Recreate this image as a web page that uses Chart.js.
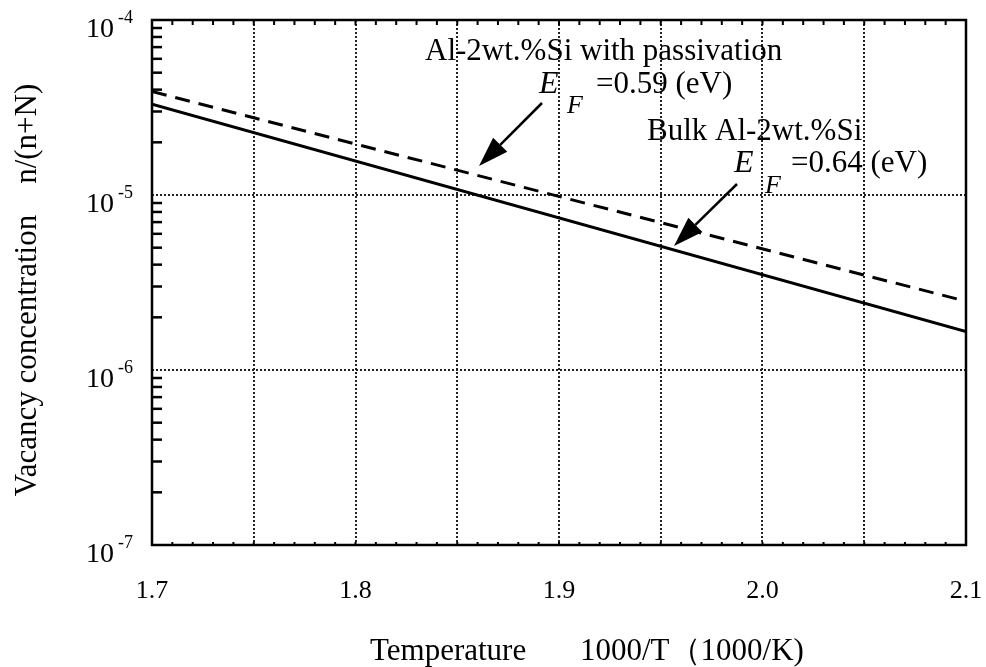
<!DOCTYPE html>
<html>
<head>
<meta charset="utf-8">
<script src="https://cdn.jsdelivr.net/npm/chart.js@4.4.1/dist/chart.umd.min.js"></script>
<style>
  html, body { margin: 0; padding: 0; background: #fff; }
</style>
</head>
<body>
<canvas id="chart" width="986" height="667"></canvas>
<script>
// 1000/T (1000/K) at both ends of the two lines
const xEnds = [1.7, 2.1]
// vacancy concentration n/(n+N)
const bulkVals = [3.3e-5, 1.66e-6]   // bulk Al-2wt.%Si, EF = 0.64 eV
const passVals = [3.9e-5, 2.47e-6]   // with passivation, EF = 0.59 eV

const xGrid = [1.7, 1.75, 1.8, 1.85, 1.9, 1.95, 2.0, 2.05, 2.1]
const xLabelVals = [1.7, 1.8, 1.9, 2.0, 2.1]
const xLabels = ['1.7', '1.8', '1.9', '2.0', '2.1']
const yDecades = [1e-7, 1e-6, 1e-5, 1e-4]
const yExponents = ['-7', '-6', '-5', '-4']

const serif = '"Liberation Serif", "Times New Roman", serif'

const arrow = (ctx, x1, y1, x2, y2) => {
  const a = Math.atan2(y2 - y1, x2 - x1)
  const len = 30, half = 10
  const bx = x2 - len * Math.cos(a), by = y2 - len * Math.sin(a)
  ctx.beginPath()
  ctx.moveTo(x1, y1)
  ctx.lineTo(bx, by)
  ctx.lineWidth = 2.5
  ctx.stroke()
  ctx.beginPath()
  ctx.moveTo(x2, y2)
  ctx.lineTo(bx + half * Math.sin(a), by - half * Math.cos(a))
  ctx.lineTo(bx - half * Math.sin(a), by + half * Math.cos(a))
  ctx.closePath()
  ctx.fill()
}

const frame = {
  id: 'frame',
  afterDraw(chart) {
    const ctx = chart.ctx
    const {left, right, top, bottom} = chart.chartArea
    const xs = chart.scales.x, ys = chart.scales.y
    ctx.save()
    ctx.strokeStyle = '#000'
    ctx.fillStyle = '#000'

    // box
    ctx.lineWidth = 2.5
    ctx.strokeRect(left, top, right - left, bottom - top)

    // minor ticks inside the left axis
    ctx.lineWidth = 2.5
    yDecades.slice(0, -1).forEach(d => {
      for (let m = 2; m <= 9; m++) {
        const y = ys.getPixelForValue(m * d)
        ctx.beginPath()
        ctx.moveTo(left, y)
        ctx.lineTo(left + 10, y)
        ctx.stroke()
      }
    })

    // small ticks on top and bottom every 0.01
    ctx.lineWidth = 2
    for (let i = 1; i < 40; i++) {
      const x = xs.getPixelForValue(1.7 + i * 0.01)
      ctx.beginPath()
      ctx.moveTo(x, top); ctx.lineTo(x, top + 5)
      ctx.moveTo(x, bottom); ctx.lineTo(x, bottom - 3)
      ctx.stroke()
    }

    // y tick labels 10^n
    yDecades.forEach((d, i) => {
      const y = ys.getPixelForValue(d)
      ctx.font = '28px ' + serif
      ctx.textAlign = 'right'
      ctx.fillText('10', 114, y + 17)
      ctx.font = '18px ' + serif
      ctx.textAlign = 'left'
      ctx.fillText(yExponents[i], 118, y + 3)
    })

    // x tick labels
    ctx.font = '26px ' + serif
    ctx.textAlign = 'center'
    xLabelVals.forEach((v, i) => {
      ctx.fillText(xLabels[i], xs.getPixelForValue(v), 598)
    })

    // axis titles
    ctx.font = '31px ' + serif
    ctx.textAlign = 'left'
    ctx.fillText('Temperature', 370, 660)
    ctx.fillText('1000/T（1000/K)', 580, 660)
    ctx.save()
    ctx.translate(36, 290)
    ctx.rotate(-Math.PI / 2)
    ctx.textAlign = 'center'
    ctx.fillText('Vacancy concentration    n/(n+N)', 0, 0)
    ctx.restore()

    // annotations
    ctx.textAlign = 'left'
    ctx.font = '31px ' + serif
    ctx.fillText('Al-2wt.%Si with passivation', 425, 60)
    ctx.fillText('=0.59 (eV)', 596, 93)
    ctx.fillText('Bulk Al-2wt.%Si', 647, 140)
    ctx.fillText('=0.64 (eV)', 791, 172)
    ctx.font = 'italic 32px ' + serif
    ctx.fillText('E', 539, 93)
    ctx.fillText('E', 734, 172)
    ctx.font = 'italic 26px ' + serif
    ctx.fillText('F', 567, 113)
    ctx.fillText('F', 765, 193)

    arrow(ctx, 542, 103, 479, 166)
    arrow(ctx, 737, 184, 674, 246)
    ctx.restore()
  }
}

const gridColor = edge => ctx => {
  const v = ctx.tick && ctx.tick.value
  return edge.some(e => Math.abs(e - v) < 1e-12) ? 'rgba(0,0,0,0)' : '#222'
}

new Chart(document.getElementById('chart'), {
  type: 'line',
  data: {
    datasets: [
      {
        data: xEnds.map((x, i) => ({x, y: passVals[i]})),
        borderColor: '#000',
        borderWidth: 3,
        borderDash: [15, 9],
        pointRadius: 0
      },
      {
        data: xEnds.map((x, i) => ({x, y: bulkVals[i]})),
        borderColor: '#000',
        borderWidth: 3,
        pointRadius: 0
      }
    ]
  },
  options: {
    responsive: false,
    animation: false,
    layout: { padding: { left: 152, top: 20, right: 20, bottom: 122 } },
    plugins: { legend: { display: false }, tooltip: { enabled: false } },
    scales: {
      x: {
        type: 'linear',
        min: 1.7,
        max: 2.1,
        afterBuildTicks: s => { s.ticks = xGrid.map(v => ({value: v})) },
        ticks: { display: false },
        grid: { color: gridColor([1.7, 2.1]), lineWidth: 2, drawTicks: false },
        border: { display: false, dash: [2, 2] }
      },
      y: {
        type: 'logarithmic',
        min: 1e-7,
        max: 1e-4,
        afterBuildTicks: s => { s.ticks = yDecades.map(v => ({value: v})) },
        ticks: { display: false },
        grid: { color: gridColor([1e-7, 1e-4]), lineWidth: 2, drawTicks: false },
        border: { display: false, dash: [2, 2] }
      }
    }
  },
  plugins: [frame]
})
</script>
</body>
</html>
